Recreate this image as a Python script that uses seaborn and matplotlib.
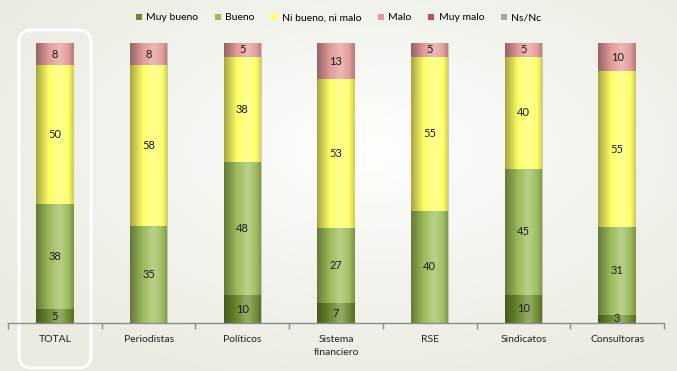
import numpy as np
import pandas as pd
import matplotlib.pyplot as plt
import seaborn as sns
from matplotlib.patches import FancyBboxPatch, Patch

categorias = ["TOTAL", "Periodistas", "Políticos", "Sistema\nfinanciero",
              "RSE", "Sindicatos", "Consultoras"]
series = ["Muy bueno", "Bueno", "Ni bueno, ni malo", "Malo", "Muy malo", "Ns/Nc"]
muy_bueno = [5, 0, 10, 7, 0, 10, 3]
bueno = [38, 35, 48, 27, 40, 45, 31]
ni_bueno = [50, 58, 38, 53, 55, 40, 55]
malo = [8, 8, 5, 13, 5, 5, 10]
muy_malo = [0, 0, 0, 0, 0, 0, 0]
ns_nc = [0, 0, 0, 0, 0, 0, 0]
colores = ["#6a8a2c", "#9bbb59", "#ffff66", "#e39a9a", "#c0504d", "#a5a5a5"]

df = pd.DataFrame({"cat": categorias, "Muy bueno": muy_bueno, "Bueno": bueno,
                   "Ni bueno, ni malo": ni_bueno, "Malo": malo,
                   "Muy malo": muy_malo, "Ns/Nc": ns_nc})
totales = df[series].sum(axis=1)
pct = df[series].div(totales, axis=0)
cum = pct.cumsum(axis=1)

plt.rcParams['font.family'] = ['Lato', 'DejaVu Sans']

fig = plt.figure(figsize=(6.77, 3.71), dpi=100)

# fondo con degradado radial
bg = fig.add_axes([0, 0, 1, 1], zorder=-10)
yy, xx = np.mgrid[0:1:200j, 0:1:360j]
r = np.sqrt(((xx - 0.55) / 0.7) ** 2 + ((yy - 0.6) / 0.7) ** 2)
r = np.clip(r, 0, 1) ** 0.8
c0 = np.array([1.0, 1.0, 1.0])
c1 = np.array([0.92, 0.92, 0.885])
img = c0[None, None, :] * (1 - r[..., None]) + c1[None, None, :] * r[..., None]
bg.imshow(img, aspect="auto", extent=[0, 1, 0, 1], origin="lower")
bg.axis("off")

# recuadro redondeado alrededor de TOTAL
box = FancyBboxPatch((0.19, 0.03), 0.72, 3.38,
                     boxstyle="round,pad=0,rounding_size=0.13",
                     transform=fig.dpi_scale_trans, fc="none",
                     ec="white", lw=2.2, zorder=-5)
fig.patches.append(box)

ax = fig.add_axes([8 / 677, 48 / 371, 656 / 677, 280 / 371])
ax.patch.set_alpha(0)

for i in range(len(series) - 1, -1, -1):
    s = series[i]
    sns.barplot(x=df["cat"], y=cum[s], color=colores[i], width=0.4,
                saturation=1, ax=ax, edgecolor="none", order=categorias)

# sombreado cilíndrico de las barras
t = np.linspace(0, 1, 60)
alpha_dark = np.clip(0.35 * (1 - t / 0.35), 0, None) + np.clip(0.2 * (t - 0.85) / 0.15, 0, None)
alpha_light = 0.28 * np.exp(-((t - 0.62) / 0.18) ** 2)
shade = np.zeros((1, 60, 4))
shade[0, :, 3] = alpha_dark
light = np.ones((1, 60, 4))
light[0, :, 3] = alpha_light
for j in range(len(categorias)):
    x0, x1 = j - 0.2, j + 0.2
    ax.imshow(shade, extent=[x0, x1, 0, 1], aspect="auto", zorder=3,
              interpolation="bilinear")
    ax.imshow(light, extent=[x0, x1, 0, 1], aspect="auto", zorder=3,
              interpolation="bilinear")

# etiquetas de valores
for j in range(len(categorias)):
    base = 0
    for s in series:
        v = df.loc[j, s]
        h = pct.loc[j, s]
        if v > 0:
            ax.text(j, base + h / 2, f"{v}", ha="center", va="center",
                    fontsize=8, color="#1a1a1a", zorder=5)
        base += h

ax.set_xlim(-0.5, len(categorias) - 0.5)
ax.set_ylim(0, 1)
ax.set_yticks([])
ax.set_xlabel("")
ax.set_ylabel("")
for sp in ["left", "right", "top"]:
    ax.spines[sp].set_visible(False)
ax.spines["bottom"].set_color("#8c8c8c")
ax.spines["bottom"].set_linewidth(1)
ax.spines["bottom"].set_zorder(6)
ax.set_xticks(range(len(categorias)))
ax.set_xticklabels(categorias, fontsize=7.5, color="#222222", linespacing=1.5)
ax.set_xticks(np.arange(-0.5, len(categorias)), minor=True)
ax.tick_params(axis="x", which="major", length=0, pad=9)
ax.tick_params(axis="x", which="minor", length=4, color="#8c8c8c", width=1)

handles = [Patch(fc=c, ec="none") for c in colores]
fig.legend(handles, series, loc="center", bbox_to_anchor=(0.5, 1 - 18 / 371),
           ncol=6, frameon=False, fontsize=7.5, handlelength=0.6,
           handleheight=0.6, handletextpad=0.4, columnspacing=1.6)

fig.savefig("out.png", dpi=100)
